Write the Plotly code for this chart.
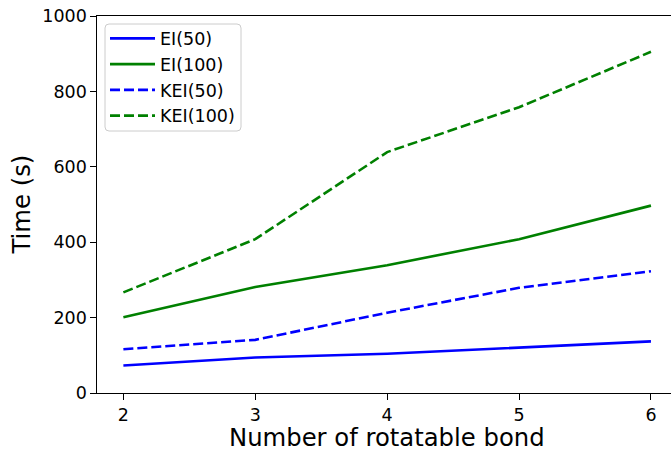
import plotly.graph_objects as go

# Number of rotatable bonds
bonds = [2, 3, 4, 5, 6]

# Run time in seconds for each method
ei_50 = [73, 94, 104, 120, 137]
ei_100 = [201, 281, 339, 408, 497]
kei_50 = [116, 141, 213, 279, 323]
kei_100 = [267, 408, 639, 758, 905]

series = [
    ("EI(50)", ei_50, "#0000ff", "solid"),
    ("EI(100)", ei_100, "#008000", "solid"),
    ("KEI(50)", kei_50, "#0000ff", "10px,4px"),
    ("KEI(100)", kei_100, "#008000", "10px,4px"),
]

FONT = "DejaVu Sans"
TICK_SIZE = 17.5
TITLE_SIZE = 24.3
W, H = 671, 450
ML, MR, MT, MB = 97, 0, 16, 57
PW, PH = W - ML - MR, H - MT - MB


def px_x(px):
    return (px - ML) / PW


def px_y(py):
    return 1 - (py - MT) / PH


fig = go.Figure()
for name, vals, color, dash in series:
    fig.add_trace(go.Scatter(
        x=bonds, y=vals, name=name, mode="lines",
        line=dict(color=color, width=2.6, dash=dash),
    ))

axis_common = dict(
    showgrid=False, zeroline=False,
    showline=True, linecolor="#000000", linewidth=1.4,
    ticks="outside", ticklen=5.5, tickwidth=1.4, tickcolor="#000000",
    tickfont=dict(family=FONT, size=TICK_SIZE, color="#000000"),
)

fig.update_xaxes(range=[1.8, 6.152], tickvals=bonds, mirror=True, **axis_common)
fig.update_yaxes(range=[0, 1000], tickvals=[0, 200, 400, 600, 800, 1000],
                 **axis_common)

# axis titles (the axes run slightly past the right edge, so centre on 386.7)
fig.add_annotation(
    text="Number of rotatable bond", xref="paper", yref="paper",
    x=px_x(386.7), y=px_y(437.5), xanchor="center", yanchor="middle",
    showarrow=False, font=dict(family=FONT, size=TITLE_SIZE, color="#000000"),
)
fig.add_annotation(
    text="Time (s)", xref="paper", yref="paper",
    x=px_x(21), y=0.5, xanchor="center", yanchor="middle",
    textangle=-90, showarrow=False,
    font=dict(family=FONT, size=TITLE_SIZE, color="#000000"),
)

# rounded legend frame
x0, x1 = px_x(105), px_x(241)
y0, y1 = px_y(131), px_y(24)
rx, ry = 4 / PW, 4 / PH
frame = (
    f"M{x0 + rx},{y1} L{x1 - rx},{y1} Q{x1},{y1} {x1},{y1 - ry} "
    f"L{x1},{y0 + ry} Q{x1},{y0} {x1 - rx},{y0} "
    f"L{x0 + rx},{y0} Q{x0},{y0} {x0},{y0 + ry} "
    f"L{x0},{y1 - ry} Q{x0},{y1} {x0 + rx},{y1} Z"
)
fig.add_shape(
    type="path", path=frame, xref="paper", yref="paper", layer="above",
    fillcolor="rgba(255,255,255,0.8)", line=dict(color="#cccccc", width=1),
)

fig.update_layout(
    width=W, height=H,
    margin=dict(l=ML, r=MR, t=MT, b=MB, pad=0),
    paper_bgcolor="white", plot_bgcolor="white",
    font=dict(family=FONT, color="#000000"),
    legend=dict(
        x=px_x(105), y=px_y(20.5), xanchor="left", yanchor="top",
        bgcolor="rgba(0,0,0,0)", borderwidth=0,
        font=dict(family=FONT, size=TICK_SIZE, color="#000000"),
        itemwidth=45,
    ),
)

fig.write_html("out.html")
